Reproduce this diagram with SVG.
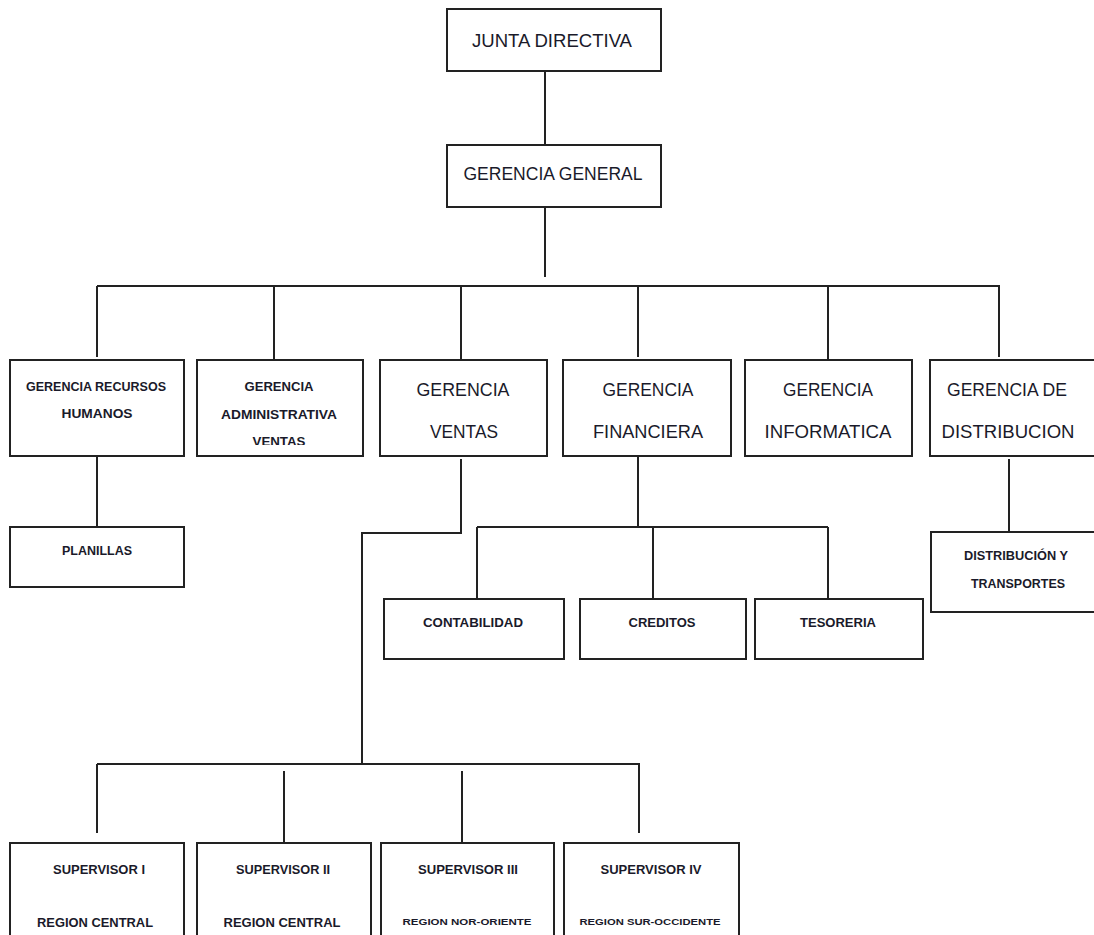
<svg xmlns="http://www.w3.org/2000/svg" width="1094" height="935" viewBox="0 0 1094 935">
<style>
.box{fill:#fff;stroke:#222;stroke-width:2}
.ln{fill:none;stroke:#222;stroke-width:2}
.big{font-family:"Liberation Sans",Arial,sans-serif;font-size:18px;fill:#1a1a2a;text-anchor:middle}
.sm{font-family:"Liberation Sans",Arial,sans-serif;font-size:12.5px;font-weight:bold;fill:#1a1a2a;text-anchor:middle}
.xs{font-family:"Liberation Sans",Arial,sans-serif;font-size:9px;font-weight:bold;fill:#1a1a2a;text-anchor:middle}
</style>
<defs>
<clipPath id="clipAdmin"><rect x="197" y="360" width="166" height="85"/></clipPath>
</defs>
<rect width="1094" height="935" fill="#fff"/>
<g id="connectors">
<path class="ln" d="M545 71V145"/>
<path class="ln" d="M545 207V277"/>
<path class="ln" d="M97 286H1000"/>
<path class="ln" d="M97 286V357M274 286V360M461 286V360M638 286V357M828 286V360M999 286V357"/>
<path class="ln" d="M97 456V527"/>
<path class="ln" d="M461 459V533H362V764"/>
<path class="ln" d="M97 764H639V833"/>
<path class="ln" d="M97 764V833M284 771V843M462 771V843"/>
<path class="ln" d="M638 456V527M477 527H828M477 527V599M653 527V599M828 527V599"/>
<path class="ln" d="M1009 459V532"/>
</g>
<g id="junta"><rect class="box" x="447" y="9" width="214" height="62"/><text class="big" x="552" y="47" textLength="160" lengthAdjust="spacingAndGlyphs">JUNTA DIRECTIVA</text></g>
<g id="general"><rect class="box" x="447" y="145" width="214" height="62"/><text class="big" x="553" y="180" textLength="179" lengthAdjust="spacingAndGlyphs">GERENCIA GENERAL</text></g>
<g id="rrhh"><rect class="box" x="10" y="360" width="174" height="96"/><text class="sm" x="96" y="391" textLength="140" lengthAdjust="spacingAndGlyphs">GERENCIA RECURSOS</text><text class="sm" x="97" y="418" textLength="71" lengthAdjust="spacingAndGlyphs">HUMANOS</text></g>
<g id="admin"><rect class="box" x="197" y="360" width="166" height="96"/><text class="sm" x="279" y="391" textLength="69" lengthAdjust="spacingAndGlyphs">GERENCIA</text><text class="sm" x="279" y="419" textLength="116" lengthAdjust="spacingAndGlyphs">ADMINISTRATIVA</text><text class="sm" x="279" y="446" textLength="53" lengthAdjust="spacingAndGlyphs" clip-path="url(#clipAdmin)">VENTAS</text></g>
<g id="ventas"><rect class="box" x="380" y="360" width="167" height="96"/><text class="big" x="463" y="396" textLength="93" lengthAdjust="spacingAndGlyphs">GERENCIA</text><text class="big" x="464" y="438" textLength="68" lengthAdjust="spacingAndGlyphs">VENTAS</text></g>
<g id="financiera"><rect class="box" x="563" y="360" width="168" height="96"/><text class="big" x="648" y="396" textLength="91" lengthAdjust="spacingAndGlyphs">GERENCIA</text><text class="big" x="648" y="438" textLength="110" lengthAdjust="spacingAndGlyphs">FINANCIERA</text></g>
<g id="informatica"><rect class="box" x="745" y="360" width="167" height="96"/><text class="big" x="828" y="396" textLength="90" lengthAdjust="spacingAndGlyphs">GERENCIA</text><text class="big" x="828" y="438" textLength="127" lengthAdjust="spacingAndGlyphs">INFORMATICA</text></g>
<g id="distribucion"><rect class="box" x="930" y="360" width="170" height="96"/><text class="big" x="1007" y="396" textLength="120" lengthAdjust="spacingAndGlyphs">GERENCIA DE</text><text class="big" x="1008" y="438" textLength="133" lengthAdjust="spacingAndGlyphs">DISTRIBUCION</text></g>
<g id="planillas"><rect class="box" x="10" y="527" width="174" height="60"/><text class="sm" x="97" y="555" textLength="70" lengthAdjust="spacingAndGlyphs">PLANILLAS</text></g>
<g id="contabilidad"><rect class="box" x="384" y="599" width="180" height="60"/><text class="sm" x="473" y="627" textLength="100" lengthAdjust="spacingAndGlyphs">CONTABILIDAD</text></g>
<g id="creditos"><rect class="box" x="580" y="599" width="166" height="60"/><text class="sm" x="662" y="627" textLength="67" lengthAdjust="spacingAndGlyphs">CREDITOS</text></g>
<g id="tesoreria"><rect class="box" x="755" y="599" width="168" height="60"/><text class="sm" x="838" y="627" textLength="76" lengthAdjust="spacingAndGlyphs">TESORERIA</text></g>
<g id="distrib-transportes"><rect class="box" x="931" y="532" width="169" height="80"/><text class="sm" x="1016" y="560" textLength="104" lengthAdjust="spacingAndGlyphs">DISTRIBUCIÓN Y</text><text class="sm" x="1018" y="588" textLength="94" lengthAdjust="spacingAndGlyphs">TRANSPORTES</text></g>
<g id="sup1"><rect class="box" x="10" y="843" width="174" height="100"/><text class="sm" x="99" y="874" textLength="92" lengthAdjust="spacingAndGlyphs">SUPERVISOR I</text><text class="sm" x="95" y="927" textLength="116" lengthAdjust="spacingAndGlyphs">REGION CENTRAL</text></g>
<g id="sup2"><rect class="box" x="197" y="843" width="174" height="100"/><text class="sm" x="283" y="874" textLength="94" lengthAdjust="spacingAndGlyphs">SUPERVISOR II</text><text class="sm" x="282" y="927" textLength="117" lengthAdjust="spacingAndGlyphs">REGION CENTRAL</text></g>
<g id="sup3"><rect class="box" x="381" y="843" width="173" height="100"/><text class="sm" x="468" y="874" textLength="100" lengthAdjust="spacingAndGlyphs">SUPERVISOR III</text><text class="xs" x="467" y="925" textLength="129" lengthAdjust="spacingAndGlyphs">REGION NOR-ORIENTE</text></g>
<g id="sup4"><rect class="box" x="564" y="843" width="175" height="100"/><text class="sm" x="651" y="874" textLength="101" lengthAdjust="spacingAndGlyphs">SUPERVISOR IV</text><text class="xs" x="650" y="925" textLength="141" lengthAdjust="spacingAndGlyphs">REGION SUR-OCCIDENTE</text></g>
</svg>
